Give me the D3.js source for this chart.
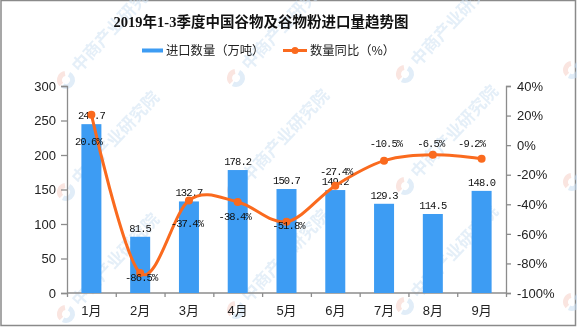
<!DOCTYPE html>
<html><head><meta charset="utf-8">
<script src="https://cdn.jsdelivr.net/npm/d3@7/dist/d3.min.js"></script>
<style>
html,body{margin:0;padding:0;background:#fff;}
svg{display:block;}
</style></head>
<body>
<svg id="chart" width="577" height="327"></svg>
<script>
const months = ["1月","2月","3月","4月","5月","6月","7月","8月","9月"];
const importVolume = [244.7, 81.5, 132.7, 178.2, 150.7, 149.2, 129.3, 114.5, 148.0];
const yoyGrowth = [20.6, -86.5, -37.4, -38.4, -51.8, -27.4, -10.5, -6.5, -9.2];
const leftTicks = [0, 50, 100, 150, 200, 250, 300];
const rightTicks = [40, 20, 0, -20, -40, -60, -80, -100];
const titleText = "2019年1-3季度中国谷物及谷物粉进口量趋势图";
const legendBar = "进口数量（万吨）";
const legendLine = "数量同比（%）";
// label placement offsets for line labels (dx, dy) relative to point
const lineLabelOffset = [[-3,26],[1,4],[-2,23],[-3,14],[2,3],[1,-15],[2,-18],[-2,-12],[-10,-16]];

const W = 577, H = 327;
const m = {left:67, right:506, top:86, bottom:293};
const svg = d3.select("#chart");
const blue = "#3d9cf3", orange = "#fa6a1e", axisCol = "#8c8c8c";

// border
svg.append("rect").attr("x",1).attr("y",0.5).attr("width",W-2.5).attr("height",H-2)
  .attr("fill","#fff").attr("stroke","#8a8a8a").attr("stroke-width",1.5);

// watermark
const wm = svg.append("g").attr("opacity",0.55);
const wmPos = [[66,80],[236,78],[405,74],[572,70],[66,192],[236,190],[405,186],[572,182],[66,314],[236,310],[405,306],[572,302]];
wmPos.forEach(([x,y])=>{
  const g = wm.append("g").attr("transform",`translate(${x},${y})`);
  g.append("path").attr("d",d3.arc()({innerRadius:4,outerRadius:9,startAngle:Math.PI*0.15,endAngle:Math.PI*1.15}))
    .attr("fill","#c8def2");
  g.append("path").attr("d",d3.arc()({innerRadius:4,outerRadius:9,startAngle:Math.PI*1.25,endAngle:Math.PI*1.95}))
    .attr("fill","#f6cfc7");
  g.append("text").attr("x",14).attr("y",5).attr("transform","rotate(-47)")
    .attr("font-family","'Noto Sans CJK SC'").attr("font-weight","bold").attr("font-size",17)
    .attr("fill","#cfe2f3").text("中商产业研究院");
});

const x = d3.scaleBand().domain(months).range([m.left,m.right]).paddingInner(0).paddingOuter(0);
const yL = d3.scaleLinear().domain([0,300]).range([m.bottom,m.top]);
const yR = d3.scaleLinear().domain([-100,40]).range([m.bottom,m.top]);
const barW = 20;

// title
svg.append("text").attr("x",261).attr("y",27).attr("text-anchor","middle")
  .attr("font-family","'Liberation Serif','Noto Sans CJK SC'").attr("font-weight","bold")
  .attr("font-size",14.5).attr("fill","#111").text(titleText);

// legend
svg.append("rect").attr("x",142).attr("y",48.5).attr("width",21).attr("height",4).attr("fill",blue);
svg.append("text").attr("x",166).attr("y",55).attr("font-family","'Noto Sans CJK SC'")
  .attr("font-size",12.3).attr("fill","#222").text(legendBar);
svg.append("line").attr("x1",283).attr("x2",307).attr("y1",50.5).attr("y2",50.5)
  .attr("stroke",orange).attr("stroke-width",3);
svg.append("circle").attr("cx",295).attr("cy",50.5).attr("r",3.5).attr("fill",orange);
svg.append("text").attr("x",310).attr("y",55).attr("font-family","'Noto Sans CJK SC'")
  .attr("font-size",12.3).attr("fill","#222").text(legendLine);

// axes
const axisFont = "'Liberation Sans',Arial,sans-serif";
const gL = svg.append("g").attr("transform",`translate(${m.left},0)`)
  .call(d3.axisLeft(yL).tickValues(leftTicks).tickSize(6).tickPadding(5));
const gR = svg.append("g").attr("transform",`translate(${m.right},0)`)
  .call(d3.axisRight(yR).tickValues(rightTicks).tickSize(5).tickPadding(6).tickFormat(d=>d+"%"));
const xTickScale = d3.scaleLinear().domain([0,9]).range([m.left,m.right]);
const gB = svg.append("g").attr("transform",`translate(0,${m.bottom})`)
  .call(d3.axisBottom(xTickScale).tickValues(d3.range(0,10)).tickSize(4).tickFormat(""));
[gL,gR,gB].forEach(g=>{
  g.select(".domain").attr("stroke",axisCol).attr("stroke-width",1.3);
  g.selectAll(".tick line").attr("stroke",axisCol).attr("stroke-width",1.3);
  g.selectAll("text").attr("font-family",axisFont).attr("font-size",13).attr("fill","#222");
});
gB.select(".domain").attr("d",`M${m.left},0H${m.right}`);
// x category labels
svg.append("g").selectAll("text").data(months).join("text")
  .attr("x",d=>x(d)+x.bandwidth()/2).attr("y",315).attr("text-anchor","middle")
  .attr("font-family","'Liberation Sans','Noto Sans CJK SC'").attr("font-size",13).attr("fill","#222")
  .text(d=>d);

// bars
svg.append("g").selectAll("rect").data(importVolume).join("rect")
  .attr("x",(d,i)=>x(months[i])+x.bandwidth()/2-barW/2)
  .attr("y",d=>yL(d)).attr("width",barW).attr("height",d=>yL(0)-yL(d)).attr("fill",blue);

const labelFont = "'Liberation Mono','DejaVu Sans Mono',monospace";
// bar labels
svg.append("g").selectAll("text").data(importVolume).join("text")
  .attr("x",(d,i)=>x(months[i])+x.bandwidth()/2).attr("y",d=>yL(d)-5)
  .attr("text-anchor","middle").attr("font-family",labelFont).attr("font-size",10.5)
  .attr("letter-spacing",-0.9)
  .attr("fill","#111").text(d=>d.toFixed(1));

// line
const pts = yoyGrowth.map((v,i)=>[x(months[i])+x.bandwidth()/2, yR(v)]);
svg.append("path").datum(pts).attr("d",d3.line().curve(d3.curveCardinal.tension(0)))
  .attr("fill","none").attr("stroke",orange).attr("stroke-width",3);
svg.append("g").selectAll("circle").data(pts).join("circle")
  .attr("cx",d=>d[0]).attr("cy",d=>d[1]).attr("r",4).attr("fill",orange);

// line labels
svg.append("g").selectAll("text").data(yoyGrowth).join("text")
  .attr("x",(d,i)=>pts[i][0]+lineLabelOffset[i][0]).attr("y",(d,i)=>pts[i][1]+lineLabelOffset[i][1]+4)
  .attr("text-anchor","middle").attr("font-family",labelFont).attr("font-size",10.5)
  .attr("letter-spacing",-0.9)
  .attr("fill","#111").text(d=>d.toFixed(1)+"%");
</script>
</body></html>
